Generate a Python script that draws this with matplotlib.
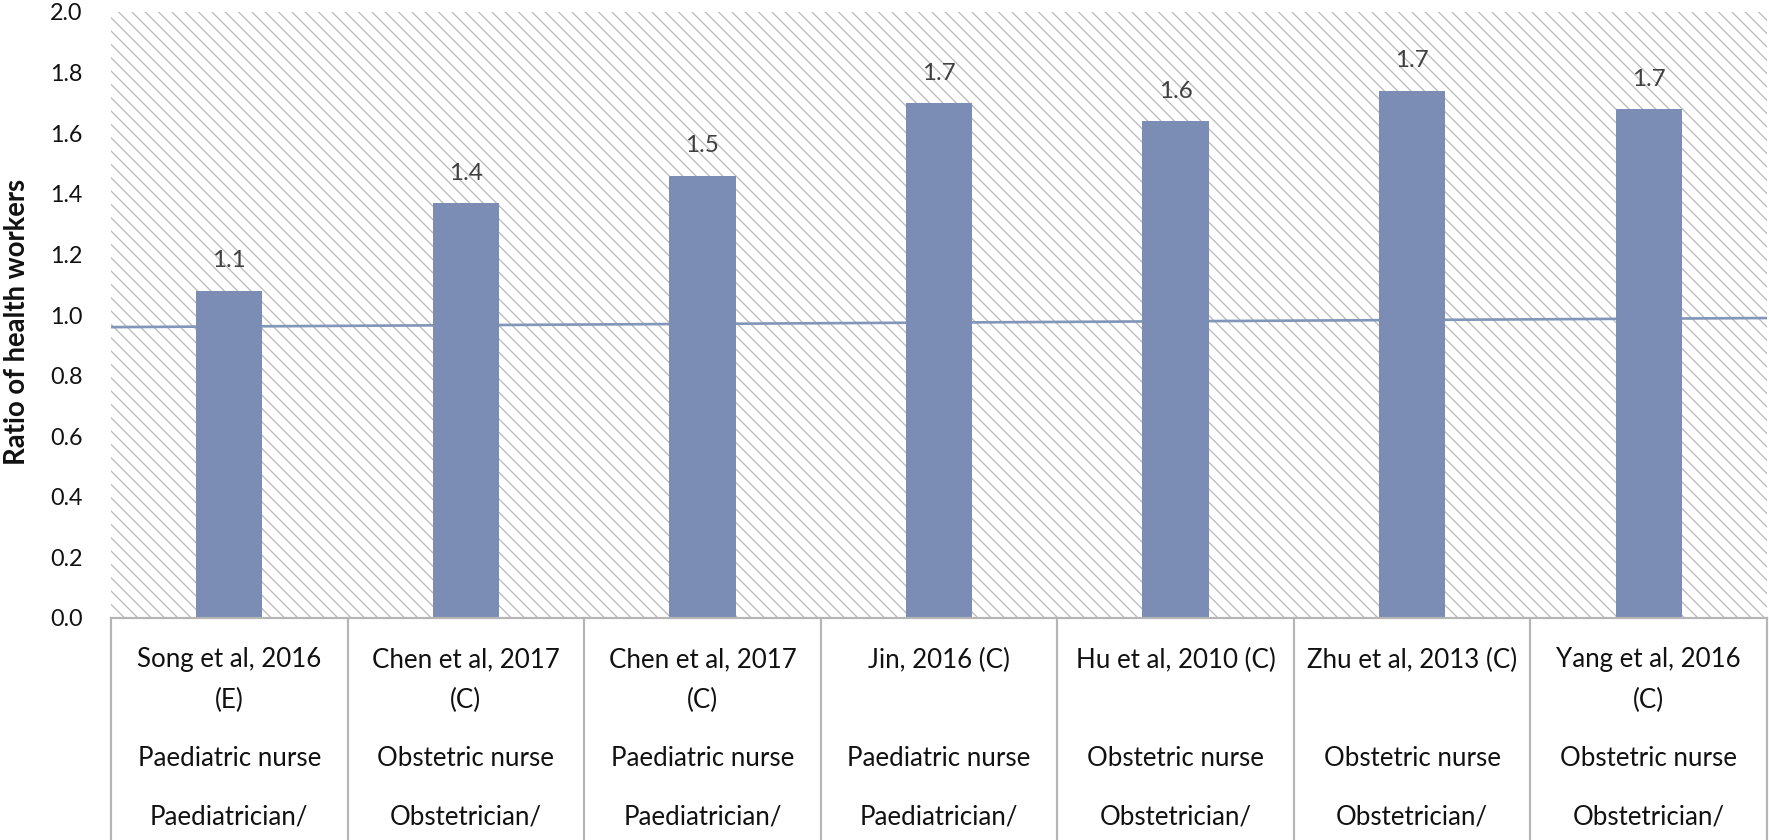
import matplotlib
matplotlib.use("Agg")
import matplotlib.pyplot as plt
import matplotlib.transforms as mtransforms
from matplotlib.patches import Rectangle
from matplotlib.lines import Line2D

# ---------------- data ----------------
citations = ["Song et al, 2016\n(E)", "Chen et al, 2017\n(C)", "Chen et al, 2017\n(C)",
             "Jin, 2016 (C)", "Hu et al, 2010 (C)", "Zhu et al, 2013 (C)",
             "Yang et al, 2016\n(C)"]
nurse_types = ["Paediatric nurse", "Obstetric nurse", "Paediatric nurse",
               "Paediatric nurse", "Obstetric nurse", "Obstetric nurse",
               "Obstetric nurse"]
doctor_types = ["Paediatrician/", "Obstetrician/", "Paediatrician/",
                "Paediatrician/", "Obstetrician/", "Obstetrician/",
                "Obstetrician/"]
ratios = [1.08, 1.37, 1.46, 1.70, 1.64, 1.74, 1.68]
value_labels = ["1.1", "1.4", "1.5", "1.7", "1.6", "1.7", "1.7"]
ref_line = [0.96, 0.99]          # reference line, left edge -> right edge
y_ticks = [0.0, 0.2, 0.4, 0.6, 0.8, 1.0, 1.2, 1.4, 1.6, 1.8, 2.0]

# ---------------- style ----------------
W, H, DPI = 1769, 840, 120
BAR = "#7b8db4"
LINE = "#8196b8"
GRID = "#b5b5b5"
FONT = "Lato"
plt.rcParams["font.family"] = [FONT, "DejaVu Sans"]
plt.rcParams["hatch.linewidth"] = 0.8

fig = plt.figure(figsize=(W / DPI, H / DPI), dpi=DPI)
fig.patch.set_facecolor("white")

left_px, right_px, top_px, bottom_px = 111, 1767, 12, 618
ax = fig.add_axes([left_px / W, 1 - bottom_px / H,
                   (right_px - left_px) / W, (bottom_px - top_px) / H])

n = len(ratios)
x = list(range(n))
xlim = (-0.5, n - 0.5)
ax.set_xlim(*xlim)
ax.set_ylim(0, 2.0)

# hatched background
ax.add_patch(Rectangle((0, 0), 1, 1, transform=ax.transAxes, facecolor="white",
                       edgecolor="#bcbcbc", hatch="\\\\\\", lw=0, zorder=0))

# reference line
ax.plot(list(xlim), ref_line, color=LINE, lw=1.6, zorder=2, solid_capstyle="butt")

# bars
ax.bar(x, ratios, width=0.28, color=BAR, zorder=3)
for xi, v, lbl in zip(x, ratios, value_labels):
    ax.annotate(lbl, (xi, v), xytext=(0, 14), textcoords="offset points",
                ha="center", va="baseline", fontsize=14.5, color="#404040")

# axes cosmetics
ax.set_yticks(y_ticks)
ax.set_yticklabels([f"{t:.1f}" for t in y_ticks])
ax.tick_params(axis="y", length=0, pad=17, labelsize=14, labelcolor="#111111")
ax.set_xticks([])
for s in ("top", "right", "left"):
    ax.spines[s].set_visible(False)
ax.spines["bottom"].set_color(GRID)
ax.spines["bottom"].set_linewidth(1.3)
ax.spines["bottom"].set_zorder(4)

# y label
fig.text(17 / W, 1 - 322 / H, "Ratio of health workers", rotation=90,
         ha="center", va="center", fontsize=16.5, fontweight="bold", color="#111111")

# table below the axis
blend = mtransforms.blended_transform_factory(ax.transData, fig.transFigure)
y0 = 1 - bottom_px / H
for b in [i - 0.5 for i in range(n + 1)]:
    fig.add_artist(Line2D([b, b], [y0, 0], transform=blend, color=GRID, lw=1.3))

line1_px, line_gap_px, row2_px, row3_px = 660, 40, 758, 817
txt_kw = dict(transform=blend, ha="center", va="center", fontsize=15.5, color="#111111")
for xi, cit, nt, dt in zip(x, citations, nurse_types, doctor_types):
    for k, part in enumerate(cit.split("\n")):
        fig.text(xi, 1 - (line1_px + k * line_gap_px) / H, part, **txt_kw)
    fig.text(xi, 1 - row2_px / H, nt, **txt_kw)
    fig.text(xi, 1 - row3_px / H, dt, **txt_kw)

fig.savefig("out.png", dpi=DPI, facecolor="white")
